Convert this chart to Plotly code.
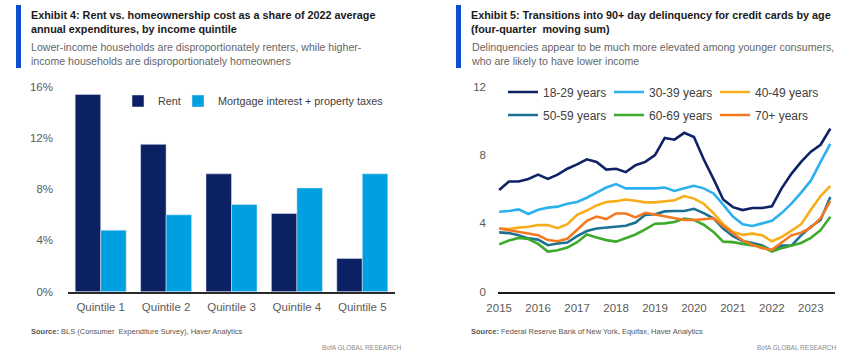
import plotly.graph_objects as go

# ---------------- data ----------------
quintiles = ["Quintile 1", "Quintile 2", "Quintile 3", "Quintile 4", "Quintile 5"]
rent = [15.4, 11.5, 9.2, 6.1, 2.6]
mortgage_tax = [4.8, 6.0, 6.8, 8.1, 9.2]

quarters = [2015 + i / 4 for i in range(35)]  # 2015Q1 .. 2023Q3
age_18_29 = [5.95, 6.45, 6.45, 6.6, 6.85, 6.6, 6.85, 7.2, 7.45, 7.75, 7.6, 7.15, 7.2, 7.0, 7.4, 7.6, 8.0, 9.0,
             8.9, 9.3, 9.05, 7.75, 6.6, 5.4, 4.95, 4.78, 4.9, 4.9, 5.0, 6.05, 6.9, 7.6, 8.2, 8.6, 9.55]
age_30_39 = [4.68, 4.72, 4.82, 4.55, 4.8, 4.92, 4.98, 5.15, 5.25, 5.5, 5.8, 6.1, 6.3, 6.05, 6.05, 6.05, 6.05, 6.1,
             5.9, 6.05, 6.2, 6.05, 5.75, 5.1, 4.4, 3.95, 3.85, 4.0, 4.15, 4.6, 5.15, 5.8, 6.5, 7.6, 8.65]
age_40_49 = [3.7, 3.67, 3.75, 3.8, 3.9, 3.9, 3.72, 3.95, 4.5, 4.75, 5.05, 5.25, 5.3, 5.4, 5.32, 5.23, 5.23, 5.3,
             5.35, 5.6, 5.45, 5.15, 4.6, 3.95, 3.5, 3.33, 3.4, 3.3, 2.95, 3.2, 3.6, 3.95, 4.8, 5.6, 6.2]
age_50_59 = [3.47, 3.43, 3.3, 3.12, 3.05, 2.72, 2.82, 2.88, 3.25, 3.55, 3.7, 3.75, 3.8, 3.86, 4.05, 4.5, 4.53, 4.7,
             4.72, 4.72, 4.85, 4.6, 4.3, 3.7, 3.25, 2.97, 2.85, 2.7, 2.4, 2.7, 2.7, 3.3, 3.8, 4.2, 5.55]
age_60_69 = [2.77, 3.0, 3.15, 3.08, 2.8, 2.35, 2.43, 2.58, 2.9, 3.35, 3.18, 3.02, 2.93, 3.15, 3.35, 3.65, 3.98, 4.0,
             4.08, 4.28, 4.2, 3.92, 3.5, 2.93, 2.9, 2.8, 2.7, 2.65, 2.35, 2.55, 2.72, 2.85, 3.15, 3.6, 4.39]
age_70_plus = [3.7, 3.6, 3.5, 3.38, 3.3, 3.02, 2.95, 3.1, 3.65, 4.15, 4.4, 4.25, 4.58, 4.58, 4.35, 4.62, 4.52, 4.42,
               4.3, 4.2, 4.2, 4.25, 4.3, 3.85, 3.4, 3.0, 2.75, 2.55, 2.45, 2.85, 3.3, 3.45, 3.75, 4.3, 5.3]

left_yticks = [0, 4, 8, 12, 16]
left_yticktext = ["0%", "4%", "8%", "12%", "16%"]
right_yticks = [0, 4, 8, 12]
right_xticks = list(range(2015, 2024))

# ---------------- styling ----------------
W, H = 848, 361
FONT = "Arial, Liberation Sans, sans-serif"
NAVY = "#0B2163"
LIGHT = "#009FDF"
series = [
    ("18-29 years", age_18_29, "#0E2266", "legend2"),
    ("30-39 years", age_30_39, "#2DB1EE", "legend2"),
    ("40-49 years", age_40_49, "#F8AE1A", "legend2"),
    ("50-59 years", age_50_59, "#1C7192", "legend3"),
    ("60-69 years", age_60_69, "#3EAA2C", "legend3"),
    ("70+ years", age_70_plus, "#F47A20", "legend3"),
]


def px_x(x):
    return x / W


def px_y(y):
    return 1 - y / H


fig = go.Figure()
fig.add_trace(go.Bar(x=quintiles, y=rent, name="Rent", marker_color=NAVY,
                     xaxis="x", yaxis="y", legend="legend"))
fig.add_trace(go.Bar(x=quintiles, y=mortgage_tax, name="Mortgage interest + property taxes",
                     marker_color=LIGHT, xaxis="x", yaxis="y", legend="legend4"))

for name, vals, col, lg in series:
    fig.add_trace(go.Scatter(x=quarters, y=vals, name=name, mode="lines",
                             line=dict(color=col, width=2.6), xaxis="x2", yaxis="y2", legend=lg))

ydom = [px_y(291.7), px_y(86.7)]
tickfont = dict(family=FONT, size=11.5, color="#5a5a5a")
legfont = dict(family=FONT, size=10.8, color="#404040")
legfont2 = dict(family=FONT, size=12, color="#404040")
leg_common = dict(orientation="h", xanchor="left", yanchor="middle", bgcolor="rgba(0,0,0,0)")

fig.update_layout(
    width=W, height=H, margin=dict(l=0, r=0, t=0, b=0, autoexpand=False),
    paper_bgcolor="white", plot_bgcolor="white",
    font=dict(family=FONT, color="#404040"),
    barmode="group", bargap=0.22, bargroupgap=0,
    xaxis=dict(domain=[px_x(68), px_x(395)], showgrid=False, showline=True, linecolor="#2a2a2a",
               linewidth=1.5, ticks="", tickfont=tickfont, ticklabelstandoff=4, fixedrange=True),
    yaxis=dict(domain=ydom, range=[0, 16], tickvals=left_yticks, ticktext=left_yticktext, showgrid=False,
               zeroline=False, showline=False, ticks="", tickfont=tickfont, ticklabelstandoff=14),
    xaxis2=dict(domain=[px_x(498), px_x(835)], anchor="y2", range=[2014.97, 2023.62],
                tickvals=right_xticks, ticktext=[str(v) for v in right_xticks], showgrid=False,
                showline=True, linecolor="#1a1a1a", linewidth=2, ticks="", tickfont=tickfont,
                ticklabelstandoff=4),
    yaxis2=dict(domain=ydom, anchor="x2", range=[0, 12], tickvals=right_yticks, showgrid=False,
                zeroline=False, showline=False, ticks="", tickfont=tickfont, ticklabelstandoff=11),
    legend=dict(x=px_x(118), y=px_y(101), font=legfont, **leg_common),
    legend4=dict(x=px_x(178), y=px_y(101), font=legfont, **leg_common),
    legend2=dict(x=px_x(503), y=px_y(92), font=legfont2, entrywidth=61, entrywidthmode="pixels",
                 **leg_common),
    legend3=dict(x=px_x(503), y=px_y(115), font=legfont2, entrywidth=61, entrywidthmode="pixels",
                 **leg_common),
    showlegend=True,
)

# Header accent bars
for x0 in (16, 456):
    fig.add_shape(type="rect", xref="paper", yref="paper", x0=px_x(x0), x1=px_x(x0 + 5),
                  y0=px_y(68), y1=px_y(5), fillcolor="#0A4FD0", line_width=0, layer="above")

TITLE = dict(family=FONT, size=10.8, color="#1a1a1a")
SUB = dict(family=FONT, size=10.6, color="#666666")
SRC = dict(family=FONT, size=7.5, color="#555555")
BOFA = dict(family=FONT, size=6.5, color="#8a8a8a")

annos = [
    (30, 8, "<b>Exhibit 4: Rent vs. homeownership cost as a share of 2022 average<br>annual expenditures, by income quintile</b>", TITLE),
    (30, 40, "Lower-income households are disproportionately renters, while higher-<br>income households are disproportionately homeowners", SUB),
    (470, 8, "<b>Exhibit 5: Transitions into 90+ day delinquency for credit cards by age<br>(four-quarter  moving sum)</b>", TITLE),
    (470, 40, "Delinquencies appear to be much more elevated among younger consumers,<br>who are likely to have lower income", SUB),
    (30, 326, "<b>Source:</b> BLS (Consumer  Expenditure Survey), Haver Analytics", SRC),
    (470, 326, "<b>Source:</b> Federal Reserve Bank of New York, Equifax, Haver Analytics", SRC),
]
for x, y, text, f in annos:
    fig.add_annotation(xref="paper", yref="paper", x=px_x(x), y=px_y(y), xanchor="left", yanchor="top",
                       text=text, showarrow=False, align="left", font=f, borderpad=0)
for x in (403, 838):
    fig.add_annotation(xref="paper", yref="paper", x=px_x(x), y=px_y(343), xanchor="right", yanchor="top",
                       text="BofA GLOBAL RESEARCH", showarrow=False, font=BOFA, borderpad=0)

fig.write_html("out.html", config={"displayModeBar": False},
               post_script="document.body.style.margin='0';document.body.style.overflow='hidden';")
